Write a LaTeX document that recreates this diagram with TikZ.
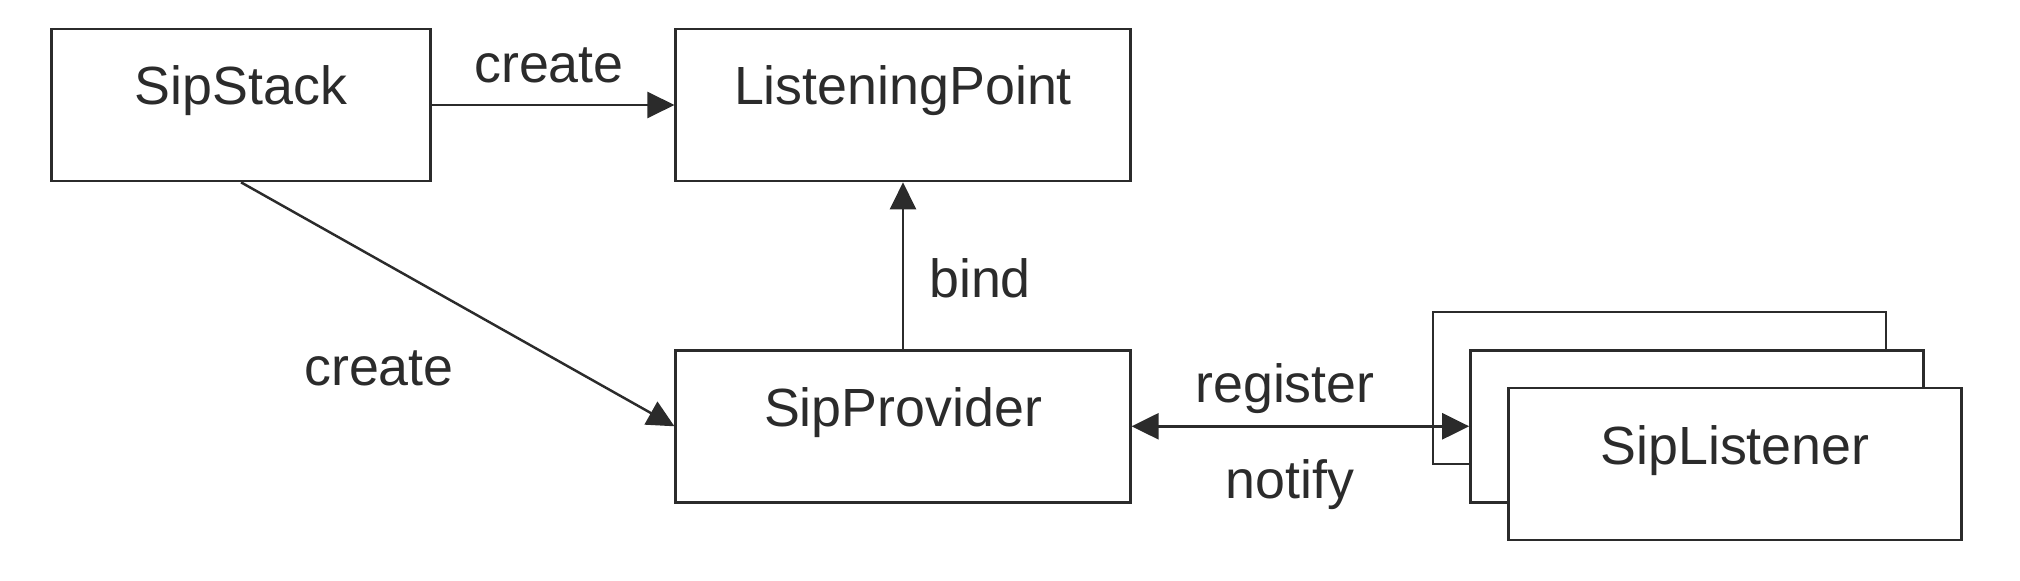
\documentclass[tikz,border=0pt]{standalone}
\usepackage{xcolor}
\usepackage{fontspec}
\setmainfont{Liberation Sans}
\usepackage{tikz}
\usetikzlibrary{arrows.meta}
\definecolor{ink}{HTML}{2B2B2B}
\tikzstyle{box_n} = [rectangle, draw=ink, fill=white, text=ink, line width=0.75pt, align=center, inner sep=0pt, minimum height=1.52cm, text height=0.4cm, text depth=0.4cm, font=\fontsize{15.3}{18}\selectfont]
\tikzstyle{box_s} = [box_n, minimum width=3.785cm]
\tikzstyle{box_w} = [box_n, minimum width=4.545cm]
\tikzstyle{box_l} = [box_n, minimum width=4.53cm]
\tikzstyle{lbl} = [text=ink, anchor=base, inner sep=0pt, font=\fontsize{15.3}{18}\selectfont]

\begin{document}
\begin{tikzpicture}[->,>={Triangle[length=2.7mm,width=2.6mm]}, line width=0.7pt, color=ink]
\useasboundingbox (0,0) rectangle (20.2,5.8);
\node [box_s] (stack) at (2.41,4.75) {SipStack};
\node [box_w] (point) at (9.03,4.75) {ListeningPoint};
\node [box_w] (provider) at (9.03,1.537) {SipProvider};
\node [box_l] (listen_c) at (16.595,1.92) {};
\node [box_l] (listen_b) at (16.97,1.537) {};
\node [box_l] (listen_a) at (17.35,1.16) {SipListener};

\draw (stack.east) -- (point.west);
\draw (stack.south) -- (provider.west);
\draw (provider.north) -- (point.south);
\draw [<->] (provider.east) -- (listen_b.west);

\node [lbl] (create_a) at (5.49,4.97) {create};
\node [lbl] (create_b) at (3.79,1.94) {create};
\node [lbl] (bind) at (9.80,2.82) {bind};
\node [lbl] (register) at (12.85,1.77) {register};
\node [lbl] (notify) at (12.90,0.81) {notify};
\end{tikzpicture}
\end{document}
